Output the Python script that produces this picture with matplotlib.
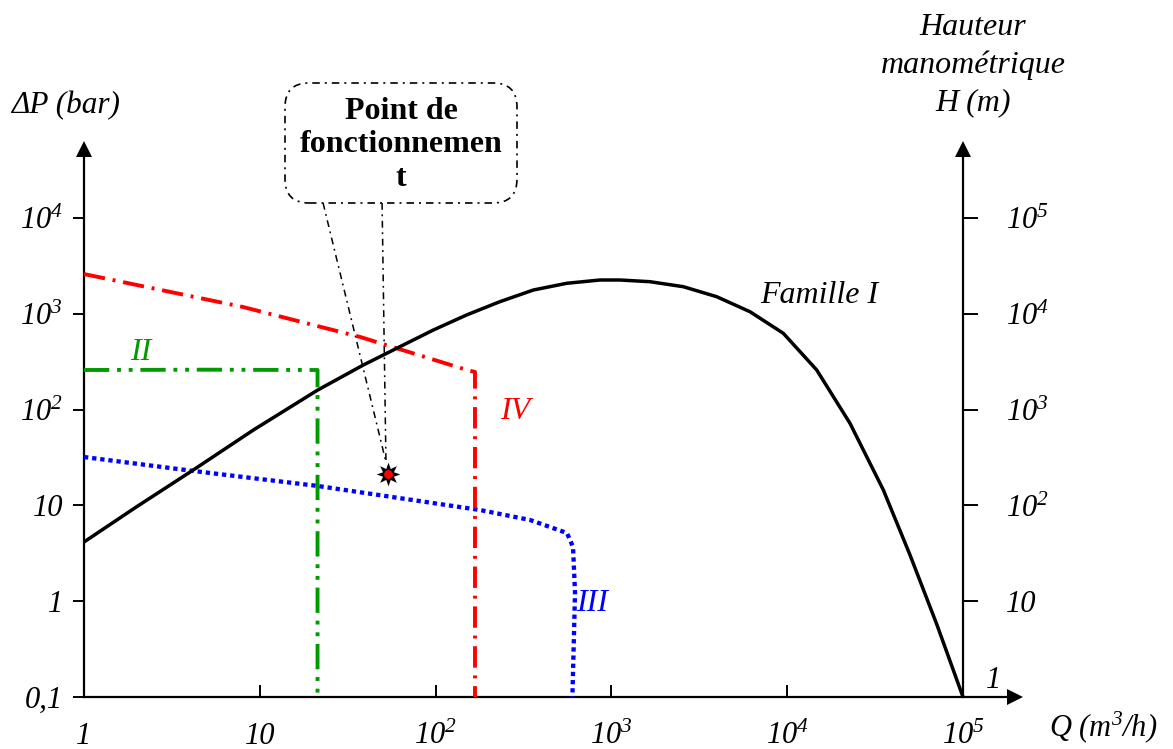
import matplotlib
matplotlib.use('Agg')
import matplotlib.pyplot as plt
from matplotlib.ticker import NullLocator
from matplotlib.patches import FancyBboxPatch
from matplotlib.transforms import IdentityTransform

plt.rcParams['font.family'] = 'Liberation Serif'
plt.rcParams['font.style'] = 'italic'
plt.rcParams['mathtext.fontset'] = 'custom'
plt.rcParams['mathtext.rm'] = 'Liberation Serif:italic'
plt.rcParams['mathtext.it'] = 'Liberation Serif:italic'
plt.rcParams['mathtext.bf'] = 'Liberation Serif:bold'

# Famille I (courbe de pompe)
q_I = [1, 1.994, 4.18, 9.19, 21.35, 38.8, 62.7, 97.0, 150, 232, 360, 557, 861, 1119,
       1658, 2565, 3972, 6143, 9502, 14720, 22760, 28330, 35220, 49940, 71150, 1e5]
dp_I = [4.15, 9.69, 23.4, 61.2, 160, 292, 454, 677, 972, 1338, 1772, 2082, 2253, 2253,
        2163, 1918, 1508, 1051, 626, 259, 71.9, 32.2, 14.5, 3.04, 0.565, 0.1]

# Famille II
q_II = [1, 5, 21.3, 21.3]
dp_II = [259, 261, 259, 0.1]

# Famille III
q_III = [1, 4.17, 21.1, 179, 344, 559, 605, 621, 600]
dp_III = [32, 22.9, 16, 8.95, 7.05, 5.15, 3.68, 1.22, 0.1]

# Famille IV
q_IV = [1, 8.02, 37.2, 151, 167.5, 167.5]
dp_IV = [2600, 1178, 573, 259, 247, 0.1]

# point de fonctionnement
q_pt, dp_pt = 53.6, 21.3

x_ticks = [1, 10, 100, 1e3, 1e4, 1e5]
x_labels = ['1', '10', '$10^{2}$', '$10^{3}$', '$10^{4}$', '$10^{5}$']
y_ticks = [0.1, 1, 10, 100, 1e3, 1e4]
y_labels = ['0,1', '1', '10', '$10^{2}$', '$10^{3}$', '$10^{4}$']
h_ticks = [10, 100, 1e3, 1e4, 1e5]
h_labels = ['10', '$10^{2}$', '$10^{3}$', '$10^{4}$', '$10^{5}$']

W, H = 1173, 749
fig = plt.figure(figsize=(W / 100, H / 100), dpi=100)
ax = fig.add_axes([84 / W, 52 / H, (1014.5 - 84) / W, (697 - 148.5) / H])
ax.set_xscale('log')
ax.set_yscale('log')
ax.set_xlim(1, 1.963e5)
ax.set_ylim(0.1, 5.315e4)

for s in ['top', 'right']:
    ax.spines[s].set_visible(False)
for s in ['left', 'bottom']:
    ax.spines[s].set_linewidth(1.6)

ax.set_xticks(x_ticks)
ax.set_xticklabels(x_labels)
ax.set_yticks(y_ticks)
ax.set_yticklabels(y_labels)
ax.xaxis.set_minor_locator(NullLocator())
ax.yaxis.set_minor_locator(NullLocator())
ax.tick_params(axis='x', direction='in', length=8.5, width=1.4, pad=18, labelsize=22)
ax.tick_params(axis='y', direction='out', length=8, width=1.4, pad=7, labelsize=22)

# axe droit : hauteur manometrique
ax2 = ax.twinx()
ax2.set_yscale('log')
ax2.set_ylim(1, 5.315e5)
for s in ['top', 'left', 'bottom']:
    ax2.spines[s].set_visible(False)
ax2.spines['right'].set_position(('data', 1e5))
ax2.spines['right'].set_linewidth(1.6)
ax2.set_yticks(h_ticks)
ax2.set_yticklabels(h_labels)
ax2.yaxis.set_minor_locator(NullLocator())
ax2.tick_params(axis='y', direction='out', length=11, width=1.4, pad=20, labelsize=22)
ax2.annotate('1', xy=(1e5, 1), xytext=(22, 12), textcoords='offset points',
             ha='center', va='center', fontsize=22)

# fleches des axes
ax.plot(1, 0, marker='>', ms=11, mew=0, color='k', transform=ax.transAxes, clip_on=False)
ax.plot(0, 1, marker='^', ms=11, mew=0, color='k', transform=ax.transAxes, clip_on=False)
ax.plot(1e5, 1, marker='^', ms=11, mew=0, color='k', transform=ax.get_xaxis_transform(),
        clip_on=False)

# courbes
ax.plot(q_I, dp_I, color='black', lw=2.5, solid_capstyle='butt', solid_joinstyle='round',
        zorder=5)
l2, = ax.plot(q_II, dp_II, color='#009900', lw=2.8, dash_capstyle='butt', zorder=4)
l2.set_dashes([6.5, 2, 1, 2, 1, 2])
l3, = ax.plot(q_III, dp_III, color='#0000ff', lw=3.1, dash_capstyle='butt', zorder=4)
l3.set_dashes([1, 0.9])
l4, = ax.plot(q_IV, dp_IV, color='#ff0000', lw=2.8, dash_capstyle='butt', zorder=4)
l4.set_dashes([5.5, 2, 0.75, 2])

ax.text(2.11, 390, 'II', color='#009900', fontsize=23, ha='center', va='center')
ax.text(776, 0.957, 'III', color='#0000ff', fontsize=23, ha='center', va='center')
ax.text(283, 96.6, 'IV', color='#ff0000', fontsize=23, ha='center', va='center')
ax.text(15200, 1535, 'Famille I', color='black', fontsize=23, ha='center', va='center')

# point de fonctionnement
ax.plot(q_pt, dp_pt, marker=(8, 1, 0), ms=17, color='black', mew=0, zorder=7)
ax.plot(q_pt, dp_pt, marker='o', ms=7, mfc='red', mec='black', mew=0.6, zorder=8)

callout_ls = (0, (4.5, 3, 1.2, 3))
ax.plot([22.9, 52.2], [14360, 28.4], color='black', lw=1.1, linestyle=callout_ls, clip_on=False)
ax.plot([49.6, 52.2], [14360, 28.4], color='black', lw=1.1, linestyle=callout_ls, clip_on=False)

# bulle (coordonnees pixels)
box = FancyBboxPatch((285, H - 203), 232, 120, boxstyle='round,pad=0,rounding_size=24',
                     transform=IdentityTransform(), fc='white', ec='black', lw=1.2,
                     linestyle=callout_ls, zorder=9)
fig.add_artist(box)
fig.text(401 / W, 1 - 145 / H, 'Point de\nfonctionnemen\nt', fontsize=23, fontweight='bold',
         fontstyle='normal', ha='center', va='center', linespacing=1.22, zorder=10)

# titres des axes
fig.text(65 / W, 1 - 106 / H, '\u0394P (bar)', fontsize=22.5, ha='center', va='center')
fig.text(973 / W, 1 - 65 / H, 'Hauteur\nmanom\u00e9trique\nH (m)', fontsize=23,
         ha='center', va='center', linespacing=1.38)
fig.text(1103 / W, 1 - 727 / H, 'Q (m$^{3}$/h)', fontsize=22, ha='center', va='center')

fig.savefig('out.png', dpi=100)
